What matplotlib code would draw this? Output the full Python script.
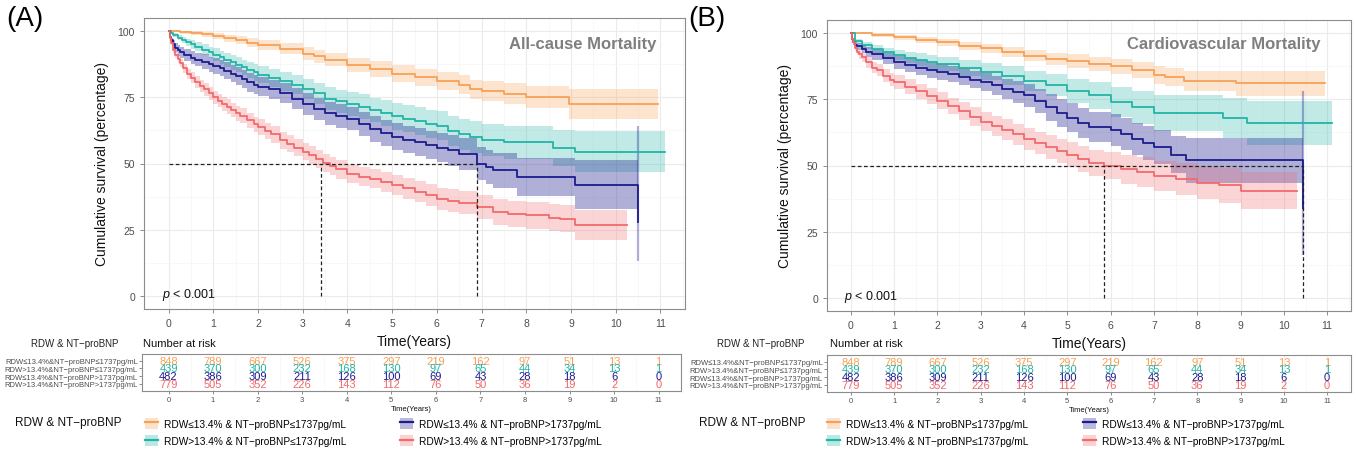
import matplotlib
matplotlib.use('Agg')
import matplotlib.pyplot as plt
from matplotlib.patches import Patch
from matplotlib.lines import Line2D
import numpy as np

plt.rcParams['font.family'] = ['Liberation Sans', 'DejaVu Sans']
plt.rcParams['mathtext.fontset'] = 'custom'
plt.rcParams['mathtext.it'] = 'Liberation Sans:italic'
plt.rcParams['mathtext.rm'] = 'Liberation Sans'

# ---------------- data ----------------
groups = ["RDW≤13.4%&NT−proBNP≤1737pg/mL", "RDW>13.4%&NT−proBNP≤1737pg/mL",
          "RDW≤13.4%&NT−proBNP>1737pg/mL", "RDW>13.4%&NT−proBNP>1737pg/mL"]
legend_labels = ["RDW≤13.4% & NT−proBNP≤1737pg/mL", "RDW>13.4% & NT−proBNP≤1737pg/mL",
                 "RDW≤13.4% & NT−proBNP>1737pg/mL", "RDW>13.4% & NT−proBNP>1737pg/mL"]
colors = ["#F7A156", "#22B5A6", "#1C1C8E", "#F26A6C"]
years = list(range(12))

# Panel A: all-cause mortality
A_orange_t = [0, 0.25, 0.5, 0.75, 1, 1.25, 1.5, 1.75, 2, 2.5, 3, 3.25, 3.5, 4, 4.5, 5, 5.5, 6, 6.5, 6.75, 7, 7.5, 8, 8.95, 10.95]
A_orange_s = [100, 99.6, 99.2, 98.8, 98.3, 97.4, 96.6, 95.6, 94.8, 93.4, 91.5, 90.5, 89.3, 87.2, 85.6, 84.0, 82.6, 81.3, 79.7, 78.0, 77.3, 76.4, 75.0, 72.5, 72.5]
A_orange_ci = [0, 0.5, 0.7, 0.9, 1.1, 1.3, 1.5, 1.7, 1.9, 2.1, 2.4, 2.5, 2.6, 2.8, 3.0, 3.1, 3.2, 3.4, 3.6, 3.7, 3.8, 4.0, 4.2, 5.5, 5.5]

A_teal_t = [0, 0.05, 0.1, 0.2, 0.3, 0.4, 0.5, 0.6, 0.75, 0.9, 1, 1.15, 1.25, 1.4, 1.5, 1.65, 1.75, 1.9, 2, 2.25,
            2.5, 2.75, 3, 3.25, 3.5, 3.75, 4, 4.25, 4.5, 4.75, 5, 5.25, 5.5, 5.75, 6, 6.25, 6.5, 6.75, 7, 7.5,
            8.6, 9.1, 11.1]
A_teal_s = [100, 99.3, 98.5, 97.6, 96.7, 95.8, 95, 94.2, 93, 92, 91.2, 90.2, 89.2, 88.2, 87.3, 86.3, 85.3, 84.4, 83.6, 82.3,
            81, 79.8, 78.2, 76.5, 74.5, 73.5, 72.6, 71.5, 70.2, 69, 67.8, 67, 66, 65, 64.3, 62.3, 61, 60, 58.8, 58,
            56, 54.5, 54.5]
A_teal_ci = [0, 0.5, 0.8, 1.0, 1.2, 1.4, 1.6, 1.7, 2.0, 2.2, 2.3, 2.5, 2.6, 2.7, 2.9, 3.0, 3.1, 3.2, 3.3, 3.5,
             3.6, 3.7, 3.9, 4.1, 4.3, 4.4, 4.5, 4.6, 4.7, 4.9, 5.0, 5.1, 5.2, 5.3, 5.4, 5.6, 5.8, 5.9, 6.0, 6.2,
             6.8, 7.6, 7.6]

A_navy_t = [0, 0.03, 0.06, 0.1, 0.15, 0.2, 0.25, 0.35, 0.5, 0.6, 0.75, 0.9, 1, 1.15, 1.25, 1.4, 1.5, 1.65, 1.75, 1.9,
            2, 2.25, 2.5, 2.75, 3, 3.25, 3.5, 3.75, 4, 4.25, 4.5, 4.75, 5, 5.25, 5.5, 5.75, 6, 6.25, 6.5, 6.9,
            7.1, 7.25, 7.8, 9.1, 10.5]
A_navy_s = [100, 98, 96.5, 95, 93.8, 92.8, 92, 91, 90, 89.3, 88.5, 87.5, 86.8, 86, 85, 84, 83, 82, 80.7, 79.8,
            79, 78, 76.5, 74.5, 72.5, 70.5, 69, 68, 67, 65, 63, 61.5, 60.2, 59, 58, 57, 56, 55, 53.5, 50,
            48.7, 47.5, 45, 42, 28]
A_navy_ci = [0, 0.7, 1.0, 1.5, 1.8, 2.0, 2.0, 2.3, 2.5, 2.6, 2.8, 2.9, 3.0, 3.1, 3.2, 3.3, 3.4, 3.4, 3.5, 3.5,
             3.6, 3.7, 3.8, 3.9, 4.0, 4.2, 4.3, 4.4, 4.5, 4.6, 4.8, 4.9, 5.0, 5.2, 5.3, 5.4, 5.6, 5.8, 6.0, 6.3,
             6.5, 6.6, 7.2, 9.2, 0]
A_navy_last_ci = [13, 64]

A_red_t = [0, 0.03, 0.06, 0.1, 0.15, 0.2, 0.25, 0.33, 0.42, 0.5, 0.6, 0.7, 0.8, 0.9, 1, 1.1, 1.2, 1.3, 1.4, 1.5,
           1.6, 1.75, 1.9, 2, 2.15, 2.3, 2.5, 2.65, 2.8, 3, 3.15, 3.3, 3.45, 3.6, 3.75, 4, 4.25, 4.5, 4.75, 5,
           5.25, 5.5, 5.75, 6, 6.25, 6.5, 6.9, 7.25, 7.6, 8, 8.5, 8.75, 9.1, 10.25]
A_red_s = [100, 97.5, 95.5, 93, 91, 89.5, 88, 86, 84, 82.5, 80.8, 79.3, 78, 76.5, 75, 73.8, 72.6, 71.5, 70.2, 69,
           68, 66.3, 64.8, 63.8, 62.3, 61, 58.8, 57.5, 56, 54.5, 53.3, 51.8, 50.3, 49, 47.8, 46, 45, 44.2, 43, 41.8,
           40.6, 39.3, 38, 36.5, 36, 35.2, 33.5, 31.6, 31, 30.4, 29.5, 29.2, 26.7, 26.7]
A_red_ci = [0, 0.5, 0.8, 1.1, 1.3, 1.5, 1.6, 1.8, 1.9, 2.0, 2.1, 2.2, 2.3, 2.4, 2.5, 2.6, 2.6, 2.7, 2.7, 2.8,
            2.8, 2.9, 2.9, 3.0, 3.0, 3.1, 3.2, 3.2, 3.3, 3.3, 3.3, 3.4, 3.4, 3.4, 3.5, 3.5, 3.5, 3.6, 3.7, 3.8,
            3.9, 4.0, 4.1, 4.2, 4.3, 4.4, 4.6, 4.8, 4.9, 5.0, 5.1, 5.2, 5.8, 5.8]
A_medians = [3.4, 6.9]

# Panel B: cardiovascular mortality
B_orange_t = [0, 0.5, 1, 1.5, 2, 2.5, 3, 3.5, 4, 4.5, 5, 5.5, 6, 6.5, 7, 7.25, 7.7, 8.9, 10.95]
B_orange_s = [100, 99.3, 98.5, 97.5, 96.5, 95.3, 94.3, 93.0, 91.5, 90.3, 89.5, 88.5, 87.5, 86.0, 84.2, 83.5, 82.0, 81.0, 81.0]
B_orange_ci = [0, 0.6, 0.9, 1.1, 1.3, 1.5, 1.7, 1.9, 2.1, 2.3, 2.5, 2.7, 2.9, 3.1, 3.3, 3.5, 3.8, 4.8, 4.8]

B_teal_t = [0, 0.1, 0.25, 0.5, 0.75, 1, 1.25, 1.5, 1.75, 2, 2.5, 3, 3.5, 4, 4.5, 5, 5.5, 6, 6.5, 7, 8.6, 9.15, 11.1]
B_teal_s = [100, 97, 95.5, 94, 92.8, 91.8, 90.8, 90, 89.2, 88.4, 87, 85.5, 84, 82, 80.5, 78.2, 76.5, 74, 72, 70, 68, 66, 66]
B_teal_ci = [0, 1.0, 1.3, 1.6, 1.8, 2.0, 2.2, 2.4, 2.6, 2.7, 3.0, 3.3, 3.6, 3.9, 4.2, 4.6, 5.1, 5.6, 6.2, 6.8, 7.5, 8.2, 8.2]

B_navy_t = [0, 0.03, 0.06, 0.1, 0.15, 0.25, 0.35, 0.5, 0.75, 1, 1.25, 1.5, 1.75, 2, 2.25, 2.5, 2.75, 3, 3.25, 3.5,
            3.75, 4, 4.25, 4.5, 4.75, 5, 5.25, 5.5, 6, 6.25, 6.5, 6.75, 7, 7.4, 7.75, 10.45]
B_navy_s = [100, 98, 96.5, 95.5, 95, 94, 93, 92, 90.5, 89, 88, 87, 86, 85.3, 84.5, 83.5, 82.5, 81.5, 80.3, 79,
            77.8, 76.5, 74.5, 72, 70, 68, 66, 64.5, 63.5, 62, 60, 58.5, 57, 54, 52, 34]
B_navy_ci = [0, 0.8, 1.0, 1.2, 1.4, 1.6, 1.8, 2.0, 2.2, 2.4, 2.6, 2.8, 2.9, 3.0, 3.1, 3.2, 3.3, 3.4, 3.6, 3.8,
             4.0, 4.3, 4.6, 5.0, 5.3, 5.5, 5.7, 5.8, 6.0, 6.1, 6.2, 6.3, 6.5, 7.0, 8.5, 0]
B_navy_last_ci = [16, 78]

B_red_t = [0, 0.03, 0.06, 0.1, 0.15, 0.2, 0.25, 0.35, 0.5, 0.6, 0.75, 0.9, 1, 1.25, 1.5, 1.75, 2, 2.25, 2.5, 2.75,
           3, 3.25, 3.5, 3.75, 4, 4.25, 4.5, 4.75, 5, 5.25, 5.5, 5.85, 6.25, 6.6, 7, 7.5, 8, 8.5, 9, 10.3]
B_red_s = [100, 98, 96.5, 94.5, 93, 92, 91, 89, 87, 86, 84, 82.5, 81.5, 79.8, 78, 76.3, 74.5, 72.5, 70.5, 68.5,
           66.5, 65, 63.5, 61.8, 60, 58.5, 57, 55.5, 54, 52.5, 51, 50, 48.5, 47.5, 46, 45, 43.5, 42.5, 40.5, 40.5]
B_red_ci = [0, 0.6, 0.9, 1.2, 1.4, 1.6, 1.8, 2.0, 2.2, 2.3, 2.4, 2.5, 2.6, 2.8, 2.9, 3.0, 3.1, 3.2, 3.4, 3.5,
            3.6, 3.7, 3.9, 4.0, 4.1, 4.2, 4.4, 4.5, 4.7, 4.8, 5.0, 5.2, 5.4, 5.6, 5.8, 6.0, 6.3, 6.5, 7.0, 7.0]
B_medians = [5.85, 10.45]

# Number at risk (same for both panels)
risk_orange = [848, 789, 667, 526, 375, 297, 219, 162, 97, 51, 13, 1]
risk_teal = [439, 370, 300, 232, 168, 130, 97, 65, 44, 34, 13, 1]
risk_navy = [482, 386, 309, 211, 126, 100, 69, 43, 28, 18, 6, 0]
risk_red = [779, 505, 352, 226, 143, 112, 76, 50, 36, 19, 2, 0]

W, H = 1356, 456
fig = plt.figure(figsize=(W / 100, H / 100), dpi=100)

def fx(px):
    return px / W

def fy(py):
    return 1 - py / H

SPINE = '#8C8C8C'

def style_axes(ax):
    for s in ax.spines.values():
        s.set_color(SPINE)
        s.set_linewidth(0.8)
    ax.tick_params(colors=SPINE, labelcolor='#4D4D4D', length=3, width=0.7)

def draw_main(rect, curves, last_ci, medians, title, title_xy):
    ax = fig.add_axes(rect)
    style_axes(ax)
    ax.set_xlim(-0.55, 11.55)
    ax.set_ylim(-5, 105)
    ax.set_xticks(years)
    ax.set_xticks(np.arange(0.5, 11.6, 1), minor=True)
    ax.set_yticks([0, 25, 50, 75, 100])
    ax.set_yticks([12.5, 37.5, 62.5, 87.5], minor=True)
    ax.tick_params(which='minor', length=0)
    ax.tick_params(labelsize=7.5)
    ax.grid(which='major', color='#EBEBEB', lw=0.8)
    ax.grid(which='minor', color='#F5F5F5', lw=0.5)
    ax.set_axisbelow(True)
    for (t, s, ci), c in zip(curves, colors):
        t = np.array(t); s = np.array(s); ci = np.array(ci)
        alpha = 0.35 if c == colors[2] else 0.28
        ax.fill_between(t, s - ci, s + ci, step='post', color=c, alpha=alpha, lw=0)
    # vertical CI spike for the last navy step
    tn = curves[2][0][-1]
    ax.plot([tn, tn], last_ci, color=colors[2], alpha=0.35, lw=1.6, solid_capstyle='butt')
    for (t, s, ci), c in zip(curves, colors):
        ax.step(t, s, where='post', color=c, lw=1.3)
    # median lines
    ax.plot([0, max(medians)], [50, 50], ls=(0, (3, 2)), color='#222222', lw=0.9)
    for m in medians:
        ax.plot([m, m], [0, 50], ls=(0, (3, 2)), color='#222222', lw=0.9)
    ax.text(title_xy[0], title_xy[1], title, ha='right', va='center', fontsize=12,
            fontweight='bold', color='#7F7F7F')
    ax.text(-0.15, 0.5, r'$\it{p}$ < 0.001', ha='left', va='center', fontsize=9, color='#111111')
    ax.set_ylabel('Cumulative survival (percentage)', fontsize=10, color='#111111', labelpad=6)
    ax.set_xlabel('Time(Years)', fontsize=10, color='#111111', labelpad=4)
    return ax

def draw_risk(rect, xlim):
    ax = fig.add_axes(rect)
    style_axes(ax)
    ax.set_xlim(*xlim)
    ax.set_ylim(0.1, 4.85)
    ax.set_xticks(years)
    ax.set_xticks(np.arange(0.5, 11.6, 1), minor=True)
    ax.tick_params(which='minor', length=0)
    ax.grid(which='major', axis='x', color='#EBEBEB', lw=0.6)
    ax.grid(which='minor', axis='x', color='#F5F5F5', lw=0.4)
    ax.set_axisbelow(True)
    ax.set_yticks([4, 3, 2, 1])
    ax.set_yticklabels(groups)
    ax.tick_params(axis='y', labelsize=5.5, length=2, pad=1)
    ax.tick_params(axis='x', labelsize=5.5, length=2, pad=1.5)
    for row, vals, c in zip([4, 3, 2, 1], [risk_orange, risk_teal, risk_navy, risk_red], colors):
        for x, v in zip(years, vals):
            ax.text(x, row, str(v), ha='center', va='center', fontsize=8, color=c)
    ax.set_xlabel('Time(Years)', fontsize=5.5, color='#111111', labelpad=1.5)
    return ax

curvesA = [(A_orange_t, A_orange_s, A_orange_ci), (A_teal_t, A_teal_s, A_teal_ci),
           (A_navy_t, A_navy_s, A_navy_ci), (A_red_t, A_red_s, A_red_ci)]
curvesB = [(B_orange_t, B_orange_s, B_orange_ci), (B_teal_t, B_teal_s, B_teal_ci),
           (B_navy_t, B_navy_s, B_navy_ci), (B_red_t, B_red_s, B_red_ci)]

draw_main([fx(144), fy(310), fx(685) - fx(144), fy(19) - fy(310)], curvesA, A_navy_last_ci,
          A_medians, 'All-cause Mortality', (10.9, 95.5))
draw_main([fx(827), fy(312), fx(1351) - fx(827), fy(21) - fy(312)], curvesB, B_navy_last_ci,
          B_medians, 'Cardiovascular Mortality', (10.85, 96.3))

draw_risk([fx(142), fy(392), fx(681) - fx(142), fy(355) - fy(392)], (-0.595, 11.463))
draw_risk([fx(827), fy(393), fx(1351) - fx(827), fy(356) - fy(393)], (-0.55, 11.55))

# panel letters
fig.text(fx(6), fy(19), '(A)', fontsize=20, ha='left', va='center')
fig.text(fx(688), fy(19), '(B)', fontsize=20, ha='left', va='center')

# risk table headers
for cx, nx in [(75, 143), (761, 830)]:
    fig.text(fx(cx), fy(344), 'RDW & NT−proBNP', fontsize=7, ha='center', va='center', color='#222222')
    fig.text(fx(nx), fy(344), 'Number at risk', fontsize=8, ha='left', va='center', color='#111111')

# legends
def handles_for(idx):
    return [(Patch(facecolor=colors[i], alpha=0.3, edgecolor='none'),
             Line2D([], [], color=colors[i], lw=1.6)) for i in idx]

for tx, c1, c2 in [(15, 145, 400), (699, 827, 1083)]:
    fig.text(fx(tx), fy(423), 'RDW & NT−proBNP', fontsize=8.5, ha='left', va='center', color='#111111')
    for cx, idx in [(c1, [0, 1]), (c2, [2, 3])]:
        fig.legend(handles_for(idx), [legend_labels[i] for i in idx], loc='center left',
                   bbox_to_anchor=(fx(cx), fy(433)), frameon=False, fontsize=7.3,
                   borderpad=0, borderaxespad=0, handlelength=1.3, handleheight=1.3,
                   handletextpad=0.6, labelspacing=0.6)

fig.savefig('out.png', dpi=100)
